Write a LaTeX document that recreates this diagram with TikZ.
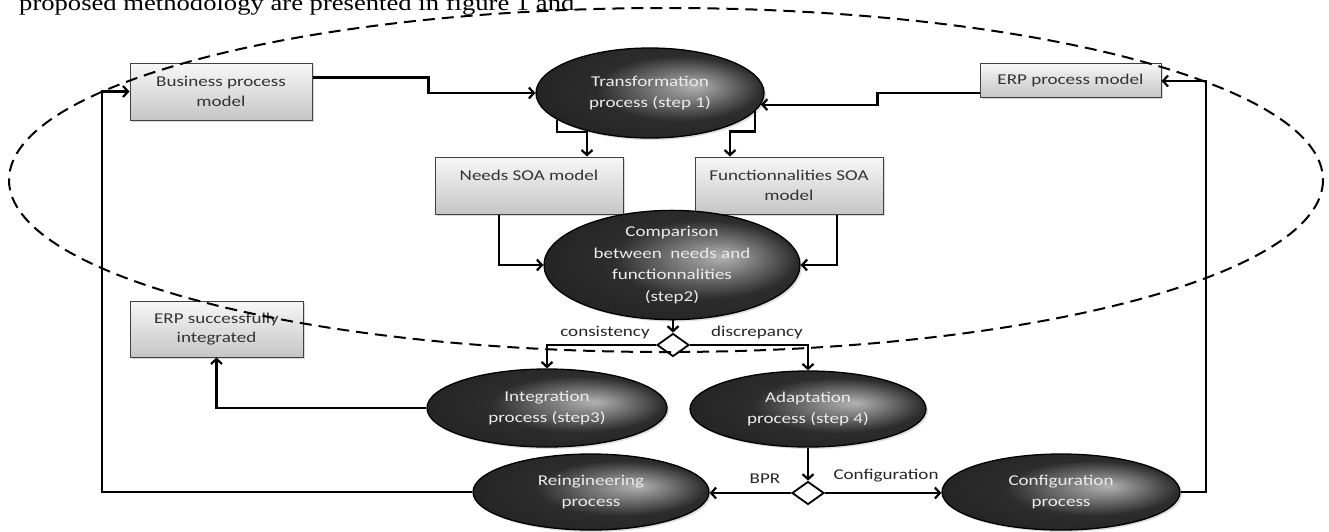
\documentclass[tikz,border=0pt]{standalone}
\usepackage{fontspec}
\setmainfont{Liberation Serif}
\newfontfamily\calfont[FakeStretch=1.27]{Carlito}
\newfontfamily\tmsfont[FakeStretch=1.21]{Liberation Serif}
\usetikzlibrary{arrows.meta,shapes.geometric,shadows}
\pgfdeclareradialshading{procshade}{\pgfpoint{10bp}{4bp}}{color(0bp)=(gray!60); color(18bp)=(gray!35!black); color(38bp)=(black!88); color(50bp)=(black)}
\begin{document}
\begin{tikzpicture}[x=1pt,y=-1pt,
  box/.style={rectangle, draw=black!75, line width=1pt, top color=gray!6, bottom color=gray!45,
    font=\calfont\fontsize{15}{19.5}\selectfont, text=black!80, align=center, inner sep=0pt,
    drop shadow={opacity=0.3, shadow xshift=2pt, shadow yshift=-2pt}},
  proc/.style={ellipse, draw=black, line width=1.3pt, shade, shading=procshade, text=gray!15,
    font=\calfont\fontsize{15}{21.5}\selectfont, align=center, inner sep=0pt,
    drop shadow={opacity=0.25, shadow xshift=2pt, shadow yshift=-2pt}},
  decision/.style={diamond, draw=black, line width=1.8pt, fill=white, inner sep=0pt,
    minimum width=32pt, minimum height=23pt},
  lbl/.style={font=\calfont\fontsize{15}{18}\selectfont, text=black!85, inner sep=0pt},
  conn/.style={line width=2.2pt, -{Straight Barb[length=5pt,width=11pt]}},
  outline/.style={line width=2pt, dash pattern=on 12pt off 7pt}]
\clip (0,0) rectangle (1329,531);
\fill[white] (0,0) rectangle (1329,531);

\node[anchor=base west, inner sep=0pt] (cap) at (19,10)
  {\tmsfont\fontsize{22pt}{26pt}\selectfont proposed methodology are presented in figure 1 and};

% boxes
\node[box, minimum width=182pt, minimum height=57pt] (bp) at (221,91.5) {Business process\\model};
\node[box, minimum width=181pt, minimum height=34pt] (erp) at (1070.5,80) {ERP process model};
\node[box, minimum width=188pt, minimum height=57pt] (needs) at (529,185.5) {Needs SOA model\\\phantom{x}};
\node[box, minimum width=188pt, minimum height=57pt] (func) at (789,185.5) {Functionnalities SOA\\model};
\node[box, minimum width=173pt, minimum height=56pt] (erpok) at (216.5,329) {ERP successfully\\integrated};

% processes
\node[proc, minimum width=228pt, minimum height=90pt] (trans) at (650,93) {Transformation\\process (step 1)};
\node[proc, minimum width=256pt, minimum height=92pt] (comp) at (672,265) {Comparison\\between\ \ needs and\\functionnalities\\(step2)};
\node[proc, minimum width=240pt, minimum height=78pt] (integ) at (547,408) {Integration\\process (step3)};
\node[proc, minimum width=236pt, minimum height=76pt] (adapt) at (808,409) {Adaptation\\process (step 4)};
\node[proc, minimum width=236pt, minimum height=76pt] (reing) at (591,492) {Reingineering\\process};
\node[proc, minimum width=238pt, minimum height=76pt] (config) at (1061,492) {Configuration\\process};

% decisions
\node[decision] (d1) at (673,345) {};
\node[decision] (d2) at (808,493) {};

% labels
\node[lbl] (lcons) at (605,333) {consistency};
\node[lbl] (ldisc) at (757,332) {discrepancy};
\node[lbl] (lbpr) at (765,479) {BPR};
\node[lbl] (lconf) at (886,476) {Configuration};

\coordinate (lc) at (102,492);
\coordinate (rc) at (1206,492);

% connectors
\draw[conn] ([yshift=14pt]bp.east) -- ++(116,0) |- (trans.west);
\draw[conn] ([yshift=-13pt]erp.west) -- ++(-102,0) |- (trans.-6);
\draw[conn] (trans.196) -- ++(0,12) -| ([xshift=58pt]needs.north);
\draw[conn] (trans.-10) -- ++(0,20) -| ([xshift=-59pt]func.north);
\draw[conn] ([xshift=-30pt]needs.south) |- (comp.west);
\draw[conn] ([xshift=48pt]func.south) |- (comp.east);
\draw[conn] (d1.north |- comp.south) -- (d1.north);
\draw[conn] (d1.west) -| (integ.north);
\draw[conn] (d1.east) -| (adapt.north);
\draw[conn] (integ.west) -| (erpok.south);
\draw[conn] (adapt.south) -- (d2.north);
\draw[conn] (d2.west) -- (d2.west -| reing.east);
\draw[conn] (d2.east) -- (d2.east -| config.west);
\draw[conn] (reing.west) -- (lc) |- (bp.west);
\draw[conn] (config.east) -- (rc) |- ([yshift=-1pt]erp.east);

% dashed outline
\draw[outline] (666,180) ellipse [x radius=657, y radius=172];
\end{tikzpicture}
\end{document}
